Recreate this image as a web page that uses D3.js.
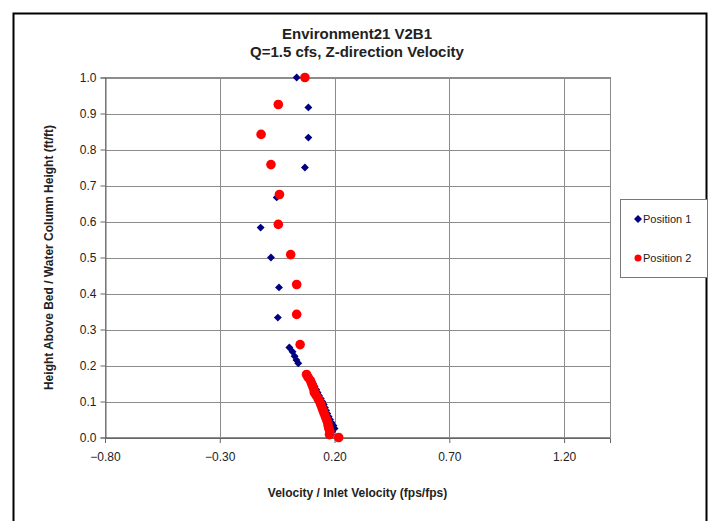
<!DOCTYPE html>
<html><head><meta charset="utf-8">
<script src="https://cdn.jsdelivr.net/npm/d3@7"></script>
<style>body{margin:0;background:#fff}svg{display:block;font-family:Arial,"Liberation Sans",sans-serif}</style>
</head><body>
<svg id="c" width="714" height="521"></svg>
<script>
const titleLines = ["Environment21 V2B1", "Q=1.5 cfs, Z-direction Velocity"];
const xLabel = "Velocity / Inlet Velocity (fps/fps)";
const yLabel = "Height Above Bed / Water Column Height (ft/ft)";
const seriesNames = ["Position 1", "Position 2"];
const xTicks = [-0.8, -0.3, 0.2, 0.7, 1.2];
const yTicks = [0,0.1,0.2,0.3,0.4,0.5,0.6,0.7,0.8,0.9,1.0];
// Position 1: [velocity ratio, relative height]
const position1 = [
  [0.035,1.0],[0.086,0.917],[0.086,0.833],[0.071,0.75],[-0.052,0.667],[-0.122,0.583],
  [-0.077,0.5],[-0.042,0.417],[-0.047,0.333],[0.003,0.25],[0.017,0.238],[0.026,0.226],
  [0.034,0.215],[0.042,0.206],
  [0.09,0.167],[0.098,0.158],[0.106,0.15],[0.113,0.142],[0.12,0.133],[0.126,0.125],
  [0.132,0.117],[0.14,0.108],[0.146,0.1],[0.153,0.092],[0.158,0.083],[0.163,0.075],
  [0.168,0.067],[0.174,0.058],[0.18,0.05],[0.186,0.042],[0.195,0.033],[0.2,0.025],
  [0.19,0.017],[0.185,0.008]
];
// Position 2
const position2 = [
  [0.071,1.0],[-0.045,0.925],[-0.12,0.842],[-0.077,0.758],[-0.04,0.675],[-0.045,0.592],
  [0.009,0.508],[0.035,0.425],[0.035,0.342],[0.05,0.258],
  [0.078,0.175],[0.085,0.167],[0.095,0.158],[0.10,0.15],[0.105,0.142],[0.11,0.133],
  [0.112,0.125],[0.12,0.117],[0.128,0.108],[0.135,0.1],[0.14,0.092],[0.145,0.083],
  [0.15,0.075],[0.155,0.067],[0.16,0.058],[0.165,0.05],[0.17,0.042],[0.172,0.033],
  [0.175,0.025],[0.18,0.017],[0.178,0.008],[0.218,0.0]
];

const svg = d3.select("#c");
const L = 105, R = 610, T = 77.5, B = 437.5;
const x = d3.scaleLinear().domain([-0.8, 1.4]).range([L, R]);
const y = d3.scaleLinear().domain([0, 1]).range([B, T]);

// outer frame
svg.append("path").attr("d", "M13.5,521 L13.5,13.5 L706.5,13.5 L706.5,521")
  .attr("fill","none").attr("stroke","#000").attr("stroke-width",2);

// gridlines
svg.append("g").selectAll("line").data(yTicks).join("line")
  .attr("x1", L).attr("x2", R).attr("y1", d=>Math.round(y(d))+0.5).attr("y2", d=>Math.round(y(d))+0.5)
  .attr("stroke","#8c8c8c").attr("stroke-width",1);
svg.append("g").selectAll("line").data(xTicks).join("line")
  .attr("y1", T).attr("y2", B).attr("x1", d=>Math.round(x(d))+0.5).attr("x2", d=>Math.round(x(d))+0.5)
  .attr("stroke","#8c8c8c").attr("stroke-width",1);
// plot border
svg.append("rect").attr("x", L+0.5).attr("y", T).attr("width", R-L).attr("height", B-T)
  .attr("fill","none").attr("stroke","#8c8c8c");

// axes
const yAxis = d3.axisLeft(y).tickValues(yTicks).tickFormat(d3.format(".1f")).tickSize(5).tickPadding(4);
const gy = svg.append("g").attr("transform", `translate(${L+0.5},0)`).call(yAxis);
const xAxis = d3.axisBottom(x).tickValues(xTicks).tickFormat(d3.format(".2f")).tickSize(5).tickPadding(9);
const gx = svg.append("g").attr("transform", `translate(0,${B+0.5})`).call(xAxis);
[gy,gx].forEach(g=>{
  g.selectAll("path.domain").attr("stroke","#666");
  g.selectAll(".tick line").attr("stroke","#666");
  g.selectAll("text").attr("font-size",12).attr("fill","#222").attr("font-family","Arial, 'Liberation Sans', sans-serif");
});

// points
const diamond = d3.symbol().type(d3.symbolDiamond2).size(40);
svg.append("g").selectAll("path").data(position1).join("path")
  .attr("d", diamond).attr("transform", d=>`translate(${x(d[0])},${y(d[1])})`).attr("fill","#000080");
svg.append("g").selectAll("circle").data(position2).join("circle")
  .attr("cx", d=>x(d[0])).attr("cy", d=>y(d[1])).attr("r",4.8).attr("fill","#ff0000");

// titles
svg.append("g").selectAll("text").data(titleLines).join("text")
  .attr("x", 357).attr("y", (d,i)=>39+i*18).attr("text-anchor","middle")
  .attr("font-size",15).attr("font-weight","bold").attr("fill","#222").text(d=>d);
svg.append("text").attr("x", (L+R)/2).attr("y", 497).attr("text-anchor","middle")
  .attr("font-size",12).attr("font-weight","bold").attr("fill","#222").text(xLabel);
svg.append("text").attr("transform", `translate(53,${(T+B)/2}) rotate(-90)`).attr("text-anchor","middle")
  .attr("font-size",12).attr("font-weight","bold").attr("fill","#222").text(yLabel);

// legend
svg.append("rect").attr("x",620.5).attr("y",199.5).attr("width",87).attr("height",78)
  .attr("fill","#fff").attr("stroke","#777");
const lg = svg.append("g");
lg.append("path").attr("d", diamond).attr("transform","translate(638,219)").attr("fill","#000080");
lg.append("circle").attr("cx",638).attr("cy",258).attr("r",3.5).attr("fill","#ff0000");
lg.selectAll("text").data(seriesNames).join("text")
  .attr("x",643).attr("y",(d,i)=>223+i*39).attr("font-size",11).attr("fill","#222").text(d=>d);
</script>
</body></html>
